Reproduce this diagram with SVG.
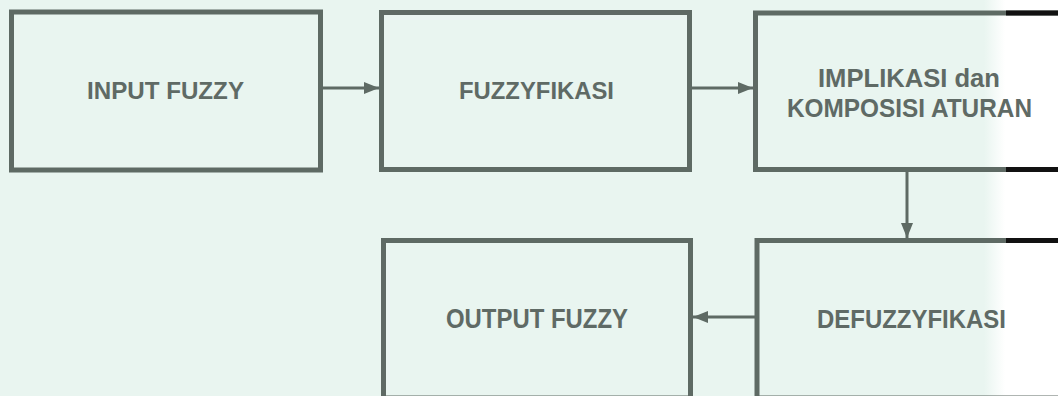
<svg xmlns="http://www.w3.org/2000/svg" width="1058" height="396" viewBox="0 0 1058 396">
<style>
.box{fill:none;stroke:#5e6a64;stroke-width:5}
.lbl{font-family:"Liberation Sans",Arial,sans-serif;font-weight:bold;fill:#5f6a65}
.con{stroke:#5e6a64;stroke-width:3;fill:none}
.blk{stroke:#111;stroke-width:5}
</style>
<defs>
<linearGradient id="bg" x1="0" y1="0" x2="1058" y2="0" gradientUnits="userSpaceOnUse">
<stop offset="0" stop-color="#e9f5f0"/>
<stop offset="0.93" stop-color="#e9f5f0"/>
<stop offset="0.95" stop-color="#ffffff"/>
<stop offset="1" stop-color="#ffffff"/>
</linearGradient>
<marker id="arr" markerUnits="userSpaceOnUse" markerWidth="16" markerHeight="13" refX="15" refY="6" orient="auto">
<path d="M0,0 L15,6 L0,12 z" fill="#5e6a64"/>
</marker>
</defs>
<rect x="0" y="0" width="1058" height="396" fill="url(#bg)"/>
<g id="connectors">
<line class="con" x1="323" y1="88" x2="379" y2="88" marker-end="url(#arr)"/>
<line class="con" x1="692" y1="88" x2="753" y2="88" marker-end="url(#arr)"/>
<line class="con" x1="907" y1="172" x2="907" y2="238" marker-end="url(#arr)"/>
<line class="con" x1="756" y1="317" x2="693" y2="317" marker-end="url(#arr)"/>
</g>
<g id="input-fuzzy">
<rect class="box" x="11.5" y="12" width="309" height="158"/>
<text class="lbl" x="87" y="99" font-size="24" textLength="157" lengthAdjust="spacingAndGlyphs">INPUT FUZZY</text>
</g>
<g id="fuzzyfikasi">
<rect class="box" x="381.5" y="12.5" width="308" height="157"/>
<text class="lbl" x="459" y="99" font-size="24" textLength="155" lengthAdjust="spacingAndGlyphs">FUZZYFIKASI</text>
</g>
<g id="implikasi">
<rect class="box" x="755.5" y="13" width="400" height="156.5"/>
<line class="blk" x1="1006" y1="13" x2="1058" y2="13"/>
<line class="blk" x1="1006" y1="169.5" x2="1058" y2="169.5"/>
<text class="lbl" x="818" y="87" font-size="26" textLength="182" lengthAdjust="spacingAndGlyphs">IMPLIKASI dan</text>
<text class="lbl" x="787" y="117" font-size="26" textLength="245" lengthAdjust="spacingAndGlyphs">KOMPOSISI ATURAN</text>
</g>
<g id="output-fuzzy">
<rect class="box" x="383.5" y="240.5" width="307" height="157.5"/>
<text class="lbl" x="446" y="328" font-size="27" textLength="182" lengthAdjust="spacingAndGlyphs">OUTPUT FUZZY</text>
</g>
<g id="defuzzyfikasi">
<rect class="box" x="757" y="240.5" width="400" height="157.5"/>
<line class="blk" x1="1006" y1="240.5" x2="1058" y2="240.5"/>
<text class="lbl" x="817" y="328" font-size="26" textLength="189" lengthAdjust="spacingAndGlyphs">DEFUZZYFIKASI</text>
</g>
</svg>
